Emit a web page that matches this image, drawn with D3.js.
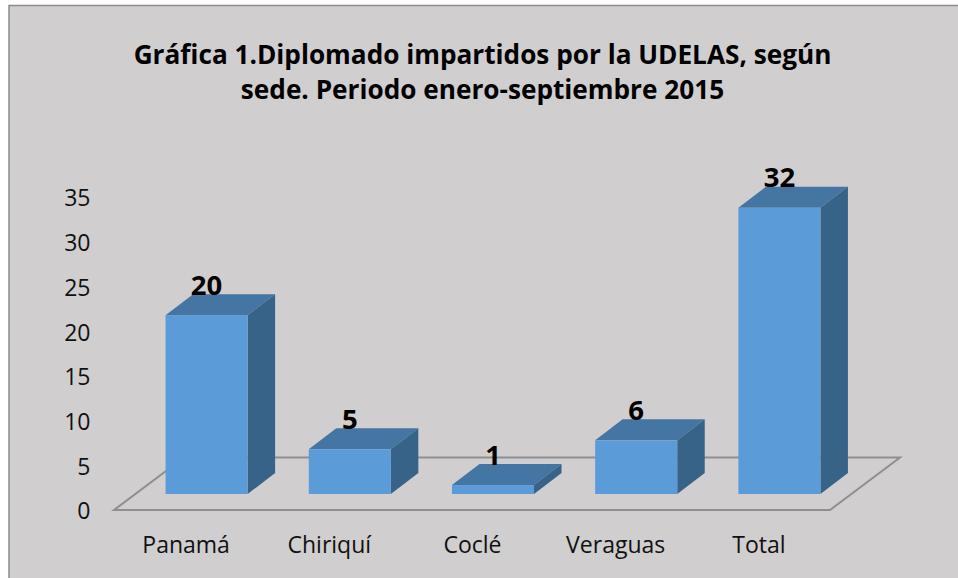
<!DOCTYPE html>
<html>
<head>
<meta charset="utf-8">
<script src="https://cdnjs.cloudflare.com/ajax/libs/d3/7.8.5/d3.min.js"></script>
<style>
  html, body { margin: 0; padding: 0; background: #fff; }
  svg { display: block; }
  text { font-family: "Open Sans", sans-serif; }
</style>
</head>
<body>
<svg id="chart" width="958" height="578"></svg>
<script>
const categories = ['Panamá', 'Chiriquí', 'Coclé', 'Veraguas', 'Total'];
const values = [20, 5, 1, 6, 32];
const yTicks = [0, 5, 10, 15, 20, 25, 30, 35];
const titleLines = [
  'Gráfica 1.Diplomado impartidos por la UDELAS, según',
  'sede. Periodo enero-septiembre 2015'
];

const svg = d3.select('#chart');

// chart area, runs off the right and bottom of the picture
svg.append('rect')
  .attr('x', 9).attr('y', 5.5)
  .attr('width', 960).attr('height', 590)
  .attr('fill', '#d0cece')
  .attr('stroke', '#8c8c8c')
  .attr('stroke-width', 1.5);

svg.append('g').selectAll('text')
  .data(titleLines)
  .enter()
  .append('text')
  .attr('x', 482.5)
  .attr('y', (d, i) => 64 + i * 35)
  .attr('text-anchor', 'middle')
  .attr('font-size', 26.2)
  .attr('font-weight', 700)
  .attr('fill', '#000')
  .text(d => d);

const x = d3.scaleBand().domain(categories).range([114, 830]);
const y = d3.scaleLinear().domain([0, 35]).range([510, 197]);

// 3d offsets
const backDx = 70, backDy = -52.5;
const barDx = 21, barDy = -16;
const sideDx = 27.5, sideDy = -21;

const toPoints = pts => pts.map(p => p.join(',')).join(' ');

svg.append('polygon')
  .attr('points', toPoints([
    [x.range()[0], y(0)],
    [x.range()[1], y(0)],
    [x.range()[1] + backDx, y(0) + backDy],
    [x.range()[0] + backDx, y(0) + backDy]
  ]))
  .attr('fill', 'none')
  .attr('stroke', '#8f8f8f')
  .attr('stroke-width', 2);

const barW = x.bandwidth() * 0.573;

const bars = svg.append('g').selectAll('g')
  .data(categories.map((c, i) => ({cat: c, value: values[i]})))
  .enter()
  .append('g');

const barLeft = d => x(d.cat) + (x.bandwidth() - barW) / 2 + barDx;
const barBase = y(0) + barDy;
const barTop = d => y(d.value) + barDy;

// top face
bars.append('polygon')
  .attr('fill', '#4475a3')
  .attr('points', d => toPoints([
    [barLeft(d), barTop(d)],
    [barLeft(d) + barW, barTop(d)],
    [barLeft(d) + barW + sideDx, barTop(d) + sideDy],
    [barLeft(d) + sideDx, barTop(d) + sideDy]
  ]));

// side face
bars.append('polygon')
  .attr('fill', '#386388')
  .attr('points', d => toPoints([
    [barLeft(d) + barW, barTop(d)],
    [barLeft(d) + barW + sideDx, barTop(d) + sideDy],
    [barLeft(d) + barW + sideDx, barBase + sideDy],
    [barLeft(d) + barW, barBase]
  ]));

// front face
bars.append('rect')
  .attr('fill', '#5b9bd8')
  .attr('x', barLeft)
  .attr('y', barTop)
  .attr('width', barW)
  .attr('height', d => barBase - barTop(d));

// value labels
bars.append('text')
  .attr('x', d => barLeft(d) + barW / 2)
  .attr('y', d => barTop(d) - 20.5)
  .attr('text-anchor', 'middle')
  .attr('font-size', 27.5)
  .attr('font-weight', 700)
  .attr('fill', '#000')
  .text(d => d.value);

// axes
const yAxis = d3.axisLeft(y).tickValues(yTicks).tickSize(0).tickPadding(0);
svg.append('g')
  .attr('transform', 'translate(90.5,1.5)')
  .call(yAxis)
  .call(g => g.select('.domain').remove())
  .selectAll('text')
  .attr('font-size', 23)
  .attr('font-family', '"Open Sans", sans-serif')
  .attr('fill', '#111');

const xAxis = d3.axisBottom(x).tickSize(0).tickPadding(0);
svg.append('g')
  .attr('transform', 'translate(0.5,536.5)')
  .call(xAxis)
  .call(g => g.select('.domain').remove())
  .selectAll('text')
  .attr('font-size', 23)
  .attr('font-family', '"Open Sans", sans-serif')
  .attr('fill', '#111');
</script>
</body>
</html>
